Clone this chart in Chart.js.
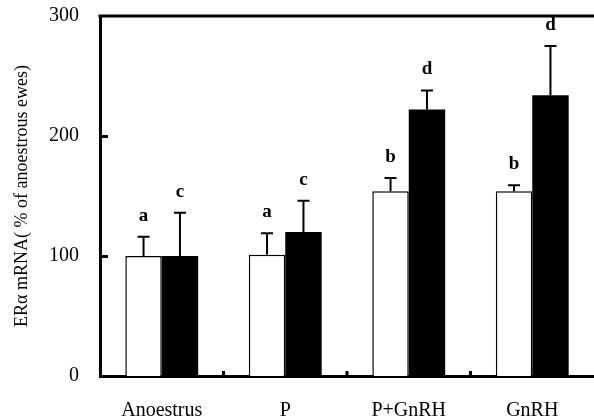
<!DOCTYPE html>
<html>
<head>
<meta charset="utf-8">
<script src="https://cdn.jsdelivr.net/npm/chart.js@4"></script>
<style>
  html, body { margin: 0; padding: 0; background: #fff; }
  #wrap { width: 594px; height: 419px; }
</style>
</head>
<body>
<div id="wrap"><canvas id="erChart"></canvas></div>
<script>
    var categories = ['Anoestrus', 'P', 'P+GnRH', 'GnRH'];
    var openValues = [100, 101, 154, 154];
    var openErrors = [16, 18, 11, 5];
    var openLetters = ['a', 'a', 'b', 'b'];
    var filledValues = [100, 120, 222, 234];
    var filledErrors = [36, 26, 16, 41];
    var filledLetters = ['c', 'c', 'd', 'd'];
    var yTicks = [0, 100, 200, 300];

    var serif = '"Liberation Serif", "DejaVu Serif", serif';
    var errorData = [openErrors, filledErrors];
    var letterData = [openLetters, filledLetters];

    // error bars, letters, inward ticks and the top frame line
    var extrasPlugin = {
        id: 'extras',
        afterDatasetsDraw: function (chart) {
            var ctx = chart.ctx;
            var y = chart.scales.y;
            var x = chart.scales.x;
            var area = chart.chartArea;
            ctx.save();
            ctx.strokeStyle = '#000';
            ctx.fillStyle = '#000';

            chart.data.datasets.forEach(function (ds, di) {
                var meta = chart.getDatasetMeta(di);
                meta.data.forEach(function (bar, i) {
                    var top = ds.data[i] + errorData[di][i];
                    var yTop = y.getPixelForValue(top);
                    var yVal = y.getPixelForValue(ds.data[i]);
                    ctx.lineWidth = 2;
                    ctx.beginPath();
                    ctx.moveTo(bar.x, yVal);
                    ctx.lineTo(bar.x, yTop);
                    ctx.moveTo(bar.x - 6, yTop);
                    ctx.lineTo(bar.x + 6, yTop);
                    ctx.stroke();

                    ctx.font = 'bold 19px ' + serif;
                    ctx.textAlign = 'center';
                    ctx.textBaseline = 'middle';
                    ctx.fillText(letterData[di][i], bar.x, yTop - 21);
                });
            });

            // y ticks point into the plot
            ctx.lineWidth = 3;
            yTicks.forEach(function (v) {
                if (v === 0 || v === 300) {
                    return;
                }
                var py = Math.round(y.getPixelForValue(v)) + 0.5;
                ctx.beginPath();
                ctx.moveTo(area.left, py);
                ctx.lineTo(area.left + 8, py);
                ctx.stroke();
            });

            // x ticks between groups, pointing up
            for (var k = 1; k < categories.length; k++) {
                var px = (x.getPixelForValue(k - 1) + x.getPixelForValue(k)) / 2;
                ctx.beginPath();
                ctx.moveTo(px, area.bottom);
                ctx.lineTo(px, area.bottom - 5);
                ctx.stroke();
            }

            // top frame line at 300
            var yMax = y.getPixelForValue(300);
            ctx.beginPath();
            ctx.moveTo(area.left - 1.5, yMax);
            ctx.lineTo(chart.width, yMax);
            ctx.stroke();
            ctx.restore();
        }
    };

    new Chart(document.getElementById('erChart').getContext('2d'), {
        type: 'bar',
        data: {
            labels: categories,
            datasets: [{
                label: 'open',
                data: openValues,
                backgroundColor: '#fff',
                borderColor: '#000',
                borderWidth: 1.5,
                categoryPercentage: 0.59,
                barPercentage: 1
            }, {
                label: 'filled',
                data: filledValues,
                backgroundColor: '#000',
                borderColor: '#000',
                borderWidth: 0,
                categoryPercentage: 0.59,
                barPercentage: 1
            }]
        },
        options: {
            responsive: true,
            maintainAspectRatio: false,
            animation: false,
            layout: { padding: { top: 0, right: 0, left: 0, bottom: 0 } },
            plugins: {
                legend: { display: false },
                tooltip: { enabled: false }
            },
            scales: {
                x: {
                    grid: { display: false, drawTicks: false },
                    border: { display: true, color: '#000', width: 3 },
                    ticks: {
                        color: '#000',
                        padding: 23,
                        font: { family: serif, size: 20 }
                    },
                    afterFit: function (scale) { scale.height = 43; }
                },
                y: {
                    min: 0,
                    max: 300,
                    grid: { display: false, drawTicks: false },
                    border: { display: true, color: '#000', width: 3 },
                    ticks: {
                        stepSize: 100,
                        color: '#000',
                        padding: 21,
                        font: { family: serif, size: 20 }
                    },
                    title: {
                        display: true,
                        text: 'ERα mRNA( % of anoestrous ewes)',
                        color: '#000',
                        padding: { top: 11, bottom: 0 },
                        font: { family: serif, size: 18 }
                    },
                    afterFit: function (scale) {
                        scale.width = 100;
                        scale.paddingTop = 16;
                        scale.paddingBottom = 0;
                    }
                }
            }
        },
        plugins: [extrasPlugin]
    });
</script>
</body>
</html>
